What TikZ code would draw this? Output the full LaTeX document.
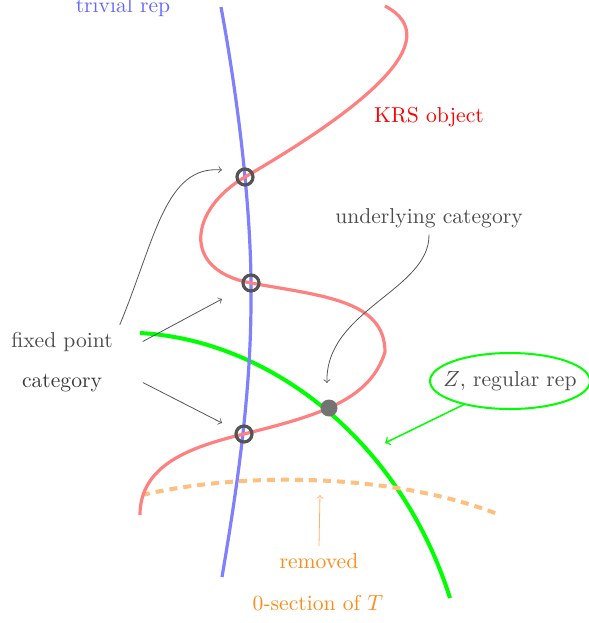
\documentclass[tikz,border=0pt]{standalone}
\usepackage{amsmath}
\usepackage{amssymb}
\usetikzlibrary{shapes.geometric}

\tikzset{
  note/.style={text=black!70, font=\fontsize{10.8}{13}\selectfont},
  rep line/.style={line width=1.6pt},
  fix circle/.style={circle, draw=black!67, line width=1.6pt, minimum size=8pt, inner sep=0pt},
  fix dot/.style={circle, fill=black!55, minimum size=8.5pt, inner sep=0pt},
  pointer/.style={->, draw=black!67, line width=0.4pt}
}

\begin{document}
\begin{tikzpicture}[x=0.5pt, y=-0.5pt, >=to]
        \useasboundingbox (0,0) rectangle (589,623);
        \draw [rep line, green, line width=2pt] (140,333) .. controls (270,340) and (400,440) .. (450,598);
        \draw [rep line, orange!50, line width=2pt, dash pattern=on 4pt off 3pt]
          (142,495) .. controls (250,470) and (400,475) .. (500,515);
        \draw [rep line, blue!50] (221,7) .. controls (240,110) and (252,220) .. (251,300)
          .. controls (251,400) and (235,500) .. (222,577);
        \draw [rep line, red!50] (385,6) .. controls (450,40) and (360,110) .. (245,177)
          .. controls (190,209) and (180,270) .. (251,283)
          .. controls (322,296) and (385,300) .. (385,352)
          .. controls (370,400) and (320,415) .. (244,434)
          .. controls (190,447) and (140,465) .. (140,515);
        \foreach \x/\y [count=\i] in {245/177, 251/283, 244/434}
          \node [fix circle] (fix-\i) at (\x,\y) {};
        \node [fix dot] (reg-pt) at (329,408) {};
        \node [note, text=blue!60, anchor=base] (triv) at (123,12) {trivial rep};
        \node [note, text=red, anchor=base] (krs) at (429,122) {KRS object};
        \node [note, anchor=base] (ucat) at (429,223) {underlying category};
        \node [note, anchor=base] (fixtxt) at (62,347) {fixed point};
        \node [note, text=black!78, anchor=base] (cattxt) at (62,387) {category};
        \node [note, ellipse, draw=green, line width=1pt, inner xsep=-6pt, inner ysep=0pt,
          minimum width=80pt, minimum height=28pt] (zrep) at (510,381) {$Z$, regular rep};
        \node [note, text=orange!90, anchor=base] (rem) at (319,568) {removed};
        \node [note, text=orange!90, anchor=base] (zsec) at (318,610) {0-section of $T$};
        \coordinate (tip-1) at (222,170);
        \coordinate (tip-2) at (222,299);
        \coordinate (tip-3) at (222,423);
        \coordinate (tip-u) at (327,383);
        \coordinate (tip-z) at (385,443);
        \coordinate (tip-r) at (320,495);
        \draw [pointer] (fixtxt.north east) .. controls (155,240) and (165,165) .. (tip-1);
        \draw [pointer] ([xshift=11.5pt]fixtxt.east) -- (tip-2);
        \draw [pointer] ([xshift=17pt]cattxt.east) -- (tip-3);
        \draw [pointer] (ucat.south) .. controls (430,290) and (325,310) .. (tip-u);
        \draw [->, green, line width=0.75pt] (zrep.207) -- (tip-z);
        \draw [->, orange!60, line width=0.4pt] (rem.north) -- (tip-r);
    \end{tikzpicture}
\end{document}
